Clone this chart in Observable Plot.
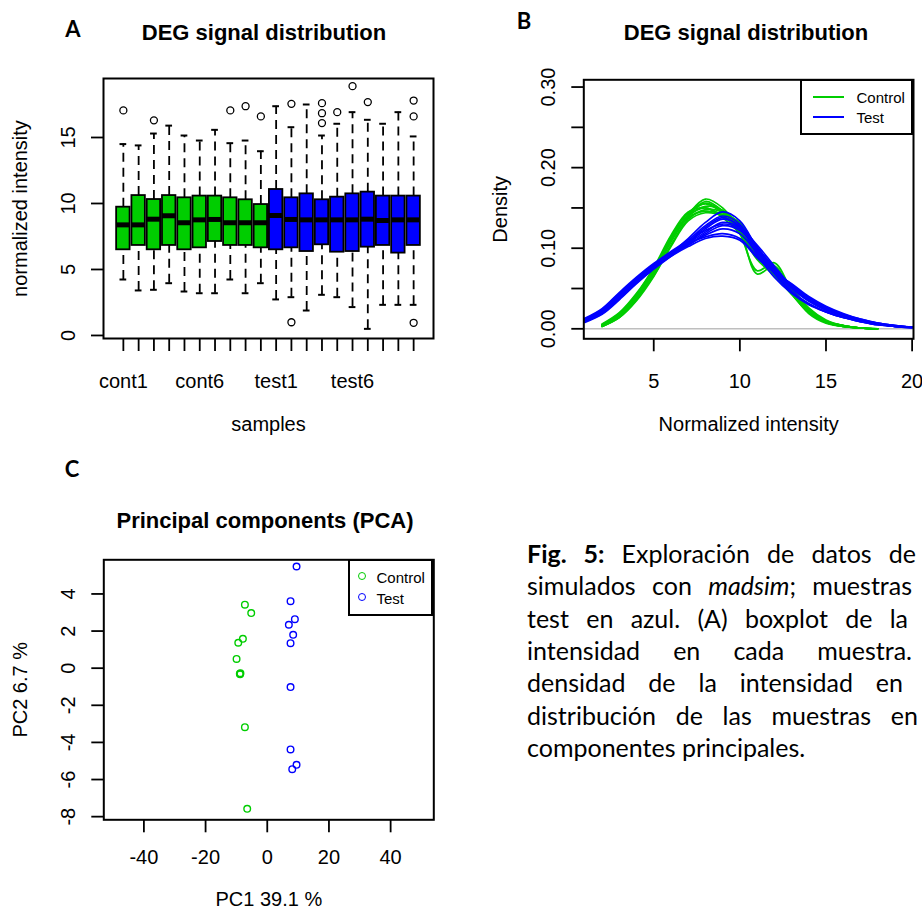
<!DOCTYPE html>
<html><head><meta charset="utf-8">
<script src="https://cdn.jsdelivr.net/npm/d3@7"></script>
<script src="https://cdn.jsdelivr.net/npm/@observablehq/plot@0.6"></script>
<style>
body{margin:0;background:#fff;}
#root{position:relative;width:922px;height:912px;overflow:hidden;background:#fff;font-family:"Liberation Sans",Arial,sans-serif;color:#000;}
.abs{position:absolute;}
.title{position:absolute;font-weight:bold;font-size:22px;transform:translate(-50%,-50%);white-space:nowrap;}
.letter{position:absolute;font-family:Lato,sans-serif;font-weight:bold;font-size:22px;transform:translate(-50%,-50%);}
.legend{position:absolute;border:2px solid #000;box-sizing:border-box;background:#fff;}
.legtext{position:absolute;font-size:15px;transform:translateY(-50%);white-space:nowrap;}
.legline{position:absolute;height:2px;transform:translateY(-50%);}
.legdot{position:absolute;width:6px;height:6px;border-radius:50%;border:1.4px solid;transform:translate(-50%,-50%);}
.capline{position:absolute;left:527px;font-family:Lato,sans-serif;font-size:25px;line-height:32.4px;white-space:nowrap;}
</style></head>
<body><div id="root"></div>
<script>
// ---------- Panel A: boxplot ----------
const samples = ["cont1","cont2","cont3","cont4","cont5","cont6","cont7","cont8","cont9","cont10",
                 "test1","test2","test3","test4","test5","test6","test7","test8","test9","test10"];
const sampleGroup = ["Control","Control","Control","Control","Control","Control","Control","Control","Control","Control",
                     "Test","Test","Test","Test","Test","Test","Test","Test","Test","Test"];
const whiskerHigh = [14.5,14.4,15.3,15.9,15.15,14.77,15.58,14.57,14.77,13.96,17.37,15.78,17.5,15.15,16.04,16.92,16.34,16.04,16.92,15.08];
const quart3 = [9.72,10.6,10.3,10.6,10.43,10.56,10.56,10.43,10.28,9.92,11.06,10.43,10.73,10.28,10.48,10.73,10.86,10.56,10.56,10.56];
const medians = [8.38,8.38,8.81,9.07,8.54,8.76,8.79,8.54,8.54,8.54,9.09,8.79,8.76,8.76,8.76,8.76,8.81,8.71,8.76,8.76];
const quart1 = [6.49,6.82,6.49,6.82,6.49,6.64,7.12,6.82,6.82,6.64,6.49,6.64,6.36,6.87,6.31,6.36,6.69,6.82,6.24,6.82];
const whiskerLow = [4.24,3.41,3.46,3.96,3.33,3.2,3.2,4.24,3.2,3.96,2.73,2.9,1.89,3.08,2.9,2.15,0.5,2.32,2.32,2.32];
const outlierSample = [1,3,8,9,10,12,12,14,14,14,15,16,17,20,20,20];
const outlierValue = [17.05,16.3,17.05,17.37,16.6,17.55,1.0,17.6,16.84,16.09,16.92,18.89,17.68,17.8,16.6,0.96];
const yTicksA = [0,5,10,15];
const xLabelPosA = [1,6,11,16];
const xLabelTextA = ["cont1","cont6","test1","test6"];

// ---------- Panel B: density curves ----------
const greenX = [2,3,4,5,6,7,8,9,10,11,12,13,14,15,16,17,18];
const greenCurves = [
 [0.004,0.016,0.038,0.070,0.110,0.142,0.161,0.150,0.122,0.088,0.070,0.046,0.022,0.009,0.004,0.001,0],
 [0.003,0.014,0.036,0.068,0.108,0.140,0.158,0.146,0.118,0.072,0.082,0.048,0.020,0.008,0.003,0.001,0],
 [0.005,0.018,0.042,0.074,0.114,0.144,0.155,0.144,0.126,0.092,0.068,0.043,0.021,0.008,0.003,0.001,0],
 [0.004,0.017,0.040,0.072,0.112,0.140,0.152,0.147,0.128,0.094,0.070,0.044,0.023,0.009,0.004,0.001,0],
 [0.006,0.020,0.044,0.076,0.116,0.145,0.150,0.140,0.120,0.068,0.078,0.045,0.019,0.007,0.003,0.001,0],
 [0.003,0.015,0.037,0.066,0.104,0.136,0.148,0.145,0.130,0.098,0.074,0.049,0.025,0.010,0.004,0.001,0],
 [0.004,0.016,0.039,0.070,0.108,0.138,0.146,0.142,0.132,0.100,0.076,0.047,0.024,0.009,0.004,0.001,0],
 [0.005,0.019,0.043,0.075,0.112,0.140,0.150,0.138,0.118,0.086,0.066,0.043,0.020,0.008,0.003,0.001,0],
 [0.004,0.016,0.040,0.071,0.110,0.141,0.156,0.146,0.124,0.090,0.072,0.046,0.022,0.009,0.003,0.001,0],
 [0.003,0.014,0.035,0.065,0.102,0.134,0.144,0.140,0.126,0.096,0.078,0.051,0.026,0.011,0.004,0.001,0]
];
const blueX = [1,2,3,4,5,6,7,8,9,10,11,12,13,14,15,16,17,18,19,20];
const blueCurves = [
 [0.010,0.020,0.040,0.060,0.078,0.094,0.112,0.132,0.145,0.134,0.100,0.070,0.047,0.031,0.021,0.014,0.009,0.005,0.003,0.002],
 [0.012,0.024,0.044,0.062,0.080,0.096,0.110,0.128,0.140,0.130,0.096,0.068,0.045,0.031,0.021,0.014,0.009,0.005,0.003,0.001],
 [0.008,0.018,0.036,0.056,0.074,0.090,0.106,0.124,0.136,0.128,0.102,0.074,0.051,0.034,0.023,0.016,0.010,0.006,0.003,0.002],
 [0.011,0.022,0.042,0.062,0.080,0.094,0.108,0.122,0.130,0.124,0.100,0.076,0.053,0.036,0.025,0.017,0.011,0.006,0.004,0.002],
 [0.010,0.021,0.040,0.060,0.078,0.092,0.104,0.116,0.124,0.118,0.094,0.074,0.054,0.038,0.026,0.018,0.011,0.007,0.004,0.002],
 [0.013,0.025,0.045,0.064,0.081,0.095,0.106,0.114,0.118,0.112,0.090,0.072,0.055,0.039,0.027,0.018,0.012,0.007,0.004,0.002],
 [0.009,0.019,0.038,0.058,0.076,0.090,0.102,0.112,0.115,0.110,0.088,0.070,0.056,0.040,0.028,0.019,0.012,0.007,0.004,0.002],
 [0.010,0.020,0.039,0.059,0.077,0.093,0.108,0.126,0.138,0.126,0.092,0.064,0.044,0.030,0.021,0.014,0.009,0.005,0.003,0.001],
 [0.012,0.023,0.043,0.063,0.079,0.094,0.104,0.118,0.128,0.122,0.098,0.072,0.050,0.035,0.024,0.016,0.010,0.006,0.003,0.002],
 [0.009,0.019,0.037,0.057,0.075,0.091,0.106,0.120,0.132,0.126,0.104,0.078,0.053,0.036,0.025,0.017,0.010,0.006,0.003,0.002]
];
const yTicksB = [0,0.05,0.10,0.15,0.20,0.25,0.30];
const yLabelsB = [0,0.10,0.20,0.30];
const xTicksB = [5,10,15,20];

// ---------- Panel C: PCA ----------
const controlPC1 = [-7.25,-5.2,-7.9,-9.4,-9.95,-8.9,-8.7,-8.8,-7.25,-6.5];
const controlPC2 = [3.42,2.97,1.58,1.37,0.5,-0.3,-0.27,-0.33,-3.18,-7.58];
const testPC1 = [9.5,7.55,8.95,7.0,8.4,7.55,7.55,7.55,9.5,8.1];
const testPC2 = [5.48,3.61,2.64,2.34,1.8,1.35,-1.02,-4.38,-5.21,-5.44];
const xTicksC = [-40,-20,0,20,40];
const yTicksC = [-8,-6,-4,-2,0,2,4];

const groupDomain = ["Control","Test"];
const groupColors = ["#00CD00","#0000FF"];
const FONT = "'Liberation Sans', Arial, sans-serif";
const root = document.getElementById("root");

function place(node, left, top){
  const w = document.createElement("div");
  w.className = "abs"; w.style.left = left+"px"; w.style.top = top+"px";
  w.appendChild(node); root.appendChild(w);
}
function addDiv(cls, text, left, top, extra){
  const d = document.createElement("div");
  d.className = cls; d.style.left = left+"px"; d.style.top = top+"px";
  if (text != null) d.textContent = text;
  if (extra) Object.assign(d.style, extra);
  root.appendChild(d); return d;
}
const TX = {textAnchor:"middle", lineAnchor:"middle"};

// ---- A ----
const boxes = samples.map((s,i)=>({pos:i+1, group:sampleGroup[i], lo:whiskerLow[i], q1:quart1[i], med:medians[i], q3:quart3[i], hi:whiskerHigh[i]}));
const outl = outlierSample.map((s,k)=>({pos:s, v:outlierValue[k]}));
const plotA = Plot.plot({
  width:460, height:450, marginTop:78, marginBottom:112, marginLeft:103, marginRight:27,
  x:{domain:[-0.3,21.3], axis:null, label:null},
  y:{domain:[-0.23,19.47], axis:null, label:null},
  color:{domain:groupDomain, range:groupColors},
  style:{fontFamily:FONT, fontSize:"20px", background:"white", color:"black", overflow:"visible"},
  marks:[
    Plot.ruleX(boxes,{x:"pos", y1:"q3", y2:"hi", stroke:"black", strokeWidth:1.8, strokeDasharray:"9,6"}),
    Plot.ruleX(boxes,{x:"pos", y1:"lo", y2:"q1", stroke:"black", strokeWidth:1.8, strokeDasharray:"9,6"}),
    Plot.ruleY(boxes,{y:"hi", x1:d=>d.pos-0.22, x2:d=>d.pos+0.22, stroke:"black", strokeWidth:2}),
    Plot.ruleY(boxes,{y:"lo", x1:d=>d.pos-0.22, x2:d=>d.pos+0.22, stroke:"black", strokeWidth:2}),
    Plot.rect(boxes,{x1:d=>d.pos-0.44, x2:d=>d.pos+0.44, y1:"q1", y2:"q3", fill:"group", stroke:"black", strokeWidth:1.8}),
    Plot.ruleY(boxes,{y:"med", x1:d=>d.pos-0.44, x2:d=>d.pos+0.44, stroke:"black", strokeWidth:5}),
    Plot.dot(outl,{x:"pos", y:"v", r:3.5, stroke:"black", strokeWidth:1.3, fill:"none"}),
    Plot.frame({stroke:"black", strokeWidth:2}),
    Plot.axisY({ticks:yTicksA, tickSize:12, tickFormat:()=>"", label:null, strokeWidth:1.8}),
    Plot.axisX({ticks:boxes.map(d=>d.pos), tickSize:13, tickFormat:()=>"", label:null, strokeWidth:1.8}),
    Plot.text(yTicksA,{y:d=>d, text:d=>String(d), frameAnchor:"left", dx:-35, rotate:-90, ...TX}),
    Plot.text(xLabelPosA,{x:d=>d, text:(d,i)=>xLabelTextA[i], frameAnchor:"bottom", dy:43, ...TX}),
    Plot.text(["samples"],{text:d=>d, frameAnchor:"bottom", dy:86, ...TX}),
    Plot.text(["normalized intensity"],{text:d=>d, frameAnchor:"left", dx:-83, rotate:-90, ...TX})
  ]
});
place(plotA, 0, 0);

// ---- B ----
const dens = [];
greenCurves.forEach((arr,k)=>arr.forEach((v,j)=>dens.push({x:greenX[j], d:v, series:"c"+k, group:"Control"})));
blueCurves.forEach((arr,k)=>arr.forEach((v,j)=>dens.push({x:blueX[j], d:v, series:"t"+k, group:"Test"})));
const plotB = Plot.plot({
  width:462, height:450, marginTop:79.3, marginBottom:111.7, marginLeft:123.3, marginRight:9,
  x:{domain:[0.94,20.08], axis:null, label:null},
  y:{domain:[-0.0124,0.309], axis:null, label:null},
  color:{domain:groupDomain, range:groupColors},
  style:{fontFamily:FONT, fontSize:"20px", background:"white", color:"black", overflow:"visible"},
  marks:[
    Plot.ruleY([0],{stroke:"#BEBEBE", strokeWidth:1.5}),
    Plot.line(dens,{x:"x", y:"d", z:"series", stroke:"group", curve:"catmull-rom", strokeWidth:1.7}),
    Plot.frame({stroke:"black", strokeWidth:2}),
    Plot.axisY({ticks:yTicksB, tickSize:12, tickFormat:()=>"", label:null, strokeWidth:1.8}),
    Plot.axisX({ticks:xTicksB, tickSize:13, tickFormat:()=>"", label:null, strokeWidth:1.8}),
    Plot.text(yLabelsB,{y:d=>d, text:d=>d3.format(".2f")(d), frameAnchor:"left", dx:-35, rotate:-90, ...TX}),
    Plot.text(xTicksB,{x:d=>d, text:d=>String(d), frameAnchor:"bottom", dy:43, ...TX}),
    Plot.text(["Normalized intensity"],{text:d=>d, frameAnchor:"bottom", dy:86, ...TX}),
    Plot.text(["Density"],{text:d=>d, frameAnchor:"left", dx:-83, rotate:-90, ...TX})
  ]
});
place(plotB, 460, 0);

// ---- C ----
const pca = controlPC1.map((v,i)=>({pc1:v, pc2:controlPC2[i], group:"Control"}))
  .concat(testPC1.map((v,i)=>({pc1:v, pc2:testPC2[i], group:"Test"})));
const plotC = Plot.plot({
  width:460, height:452, marginTop:99.3, marginBottom:92.7, marginLeft:103.3, marginRight:26.7,
  x:{domain:[-53,54], axis:null, label:null},
  y:{domain:[-8.17,5.84], axis:null, label:null},
  color:{domain:groupDomain, range:groupColors},
  style:{fontFamily:FONT, fontSize:"20px", background:"white", color:"black", overflow:"visible"},
  marks:[
    Plot.dot(pca,{x:"pc1", y:"pc2", stroke:"group", r:3.3, strokeWidth:1.4, fill:"none"}),
    Plot.frame({stroke:"black", strokeWidth:2}),
    Plot.axisY({ticks:yTicksC, tickSize:12, tickFormat:()=>"", label:null, strokeWidth:1.8}),
    Plot.axisX({ticks:xTicksC, tickSize:13, tickFormat:()=>"", label:null, strokeWidth:1.8}),
    Plot.text(yTicksC,{y:d=>d, text:d=>String(d), frameAnchor:"left", dx:-35, rotate:-90, ...TX}),
    Plot.text(xTicksC,{x:d=>d, text:d=>String(d), frameAnchor:"bottom", dy:38, ...TX}),
    Plot.text(["PC1 39.1 %"],{text:d=>d, frameAnchor:"bottom", dy:80, ...TX}),
    Plot.text(["PC2 6.7 %"],{text:d=>d, frameAnchor:"left", dx:-83, rotate:-90, ...TX})
  ]
});
place(plotC, 0, 460);

// ---- titles & panel letters ----
addDiv("title","DEG signal distribution",264,33);
addDiv("title","DEG signal distribution",746,33);
addDiv("title","Principal components (PCA)",265,521);
addDiv("letter","A",73,28);
addDiv("letter","B",524,20);
addDiv("letter","C",72,468);

// ---- legend B ----
addDiv("legend",null,800,79.3,{width:"113px",height:"56px"});
addDiv("legline",null,813,97.3,{width:"31px",background:groupColors[0]});
addDiv("legline",null,813,117.3,{width:"31px",background:groupColors[1]});
addDiv("legtext",groupDomain[0],856.5,97.3);
addDiv("legtext",groupDomain[1],856.5,117.3);
// ---- legend C ----
addDiv("legend",null,347.7,559.3,{width:"85.6px",height:"57px"});
addDiv("legdot",null,362.3,576,{borderColor:groupColors[0]});
addDiv("legdot",null,362.3,596.7,{borderColor:groupColors[1]});
addDiv("legtext",groupDomain[0],376.5,577);
addDiv("legtext",groupDomain[1],376.5,597.5);

// ---- caption (justified lines, as visible in the reference) ----
const capLines = [
  "<b>Fig. 5:</b> Exploración de datos de",
  "simulados con <i>madsim</i>; muestras",
  "test en azul. (A) boxplot de la",
  "intensidad en cada muestra.",
  "densidad de la intensidad en",
  "distribución de las muestras en",
  "componentes principales."
];
const capRight = [916, 912, 908, 912, 903, 918, null];
capLines.forEach((html,i)=>{
  const d = addDiv("capline", null, 527, 536.8 + i*32.4);
  const span = document.createElement("span");
  span.innerHTML = html; d.appendChild(span);
  if (capRight[i] != null){
    const w = span.getBoundingClientRect().width;
    const spaces = (span.textContent.match(/ /g)||[]).length;
    d.style.wordSpacing = Math.max(0, (capRight[i]-527-w)/spaces) + "px";
  }
});
</script></body></html>
